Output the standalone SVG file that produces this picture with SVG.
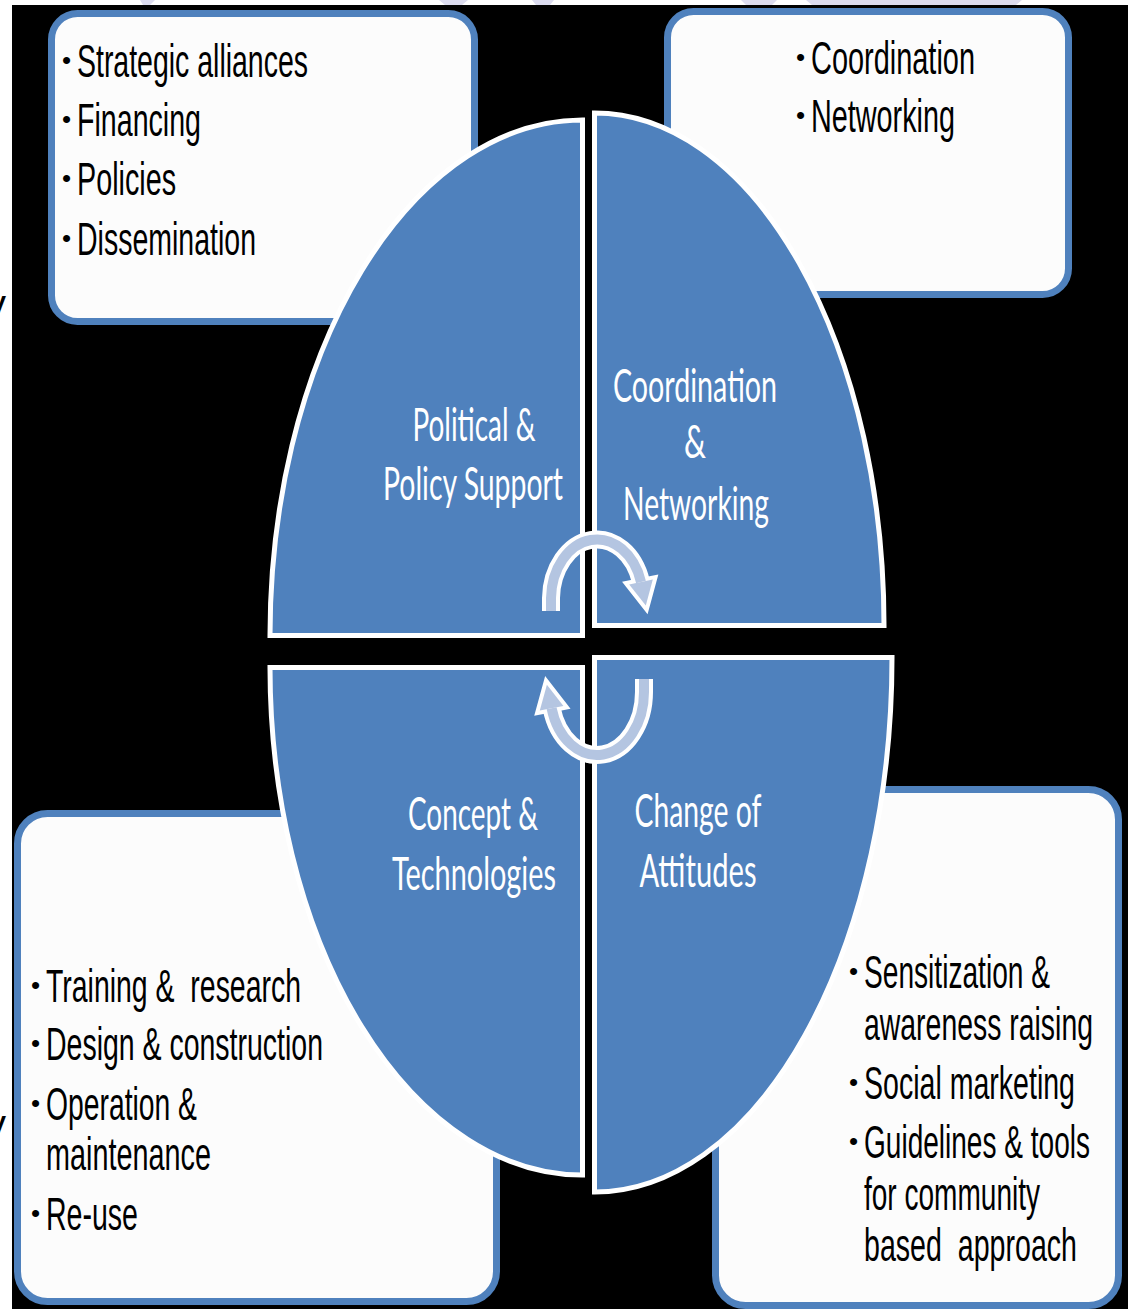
<svg xmlns="http://www.w3.org/2000/svg" width="1128" height="1309" viewBox="0 0 1128 1309">
  <style>
    .box { fill: #fcfcfc; stroke: #4f81bd; stroke-width: 7; }
    .quad { fill: #4f81bd; stroke: #ffffff; stroke-width: 5; }
    .item { font-family: "Liberation Sans", Arial, sans-serif; font-size: 46px; fill: #000000; }
    .bul { font-family: "Liberation Sans", Arial, sans-serif; font-size: 26px; fill: #000000; }
    .label { font-family: Lato, "Open Sans", sans-serif; font-size: 46px; fill: #ffffff; text-anchor: middle; }
    .stray { font-family: "Liberation Sans", Arial, sans-serif; font-size: 40px; fill: #000000; }
    .arrow-edge { fill: none; stroke: #ffffff; stroke-width: 18; }
    .arrow-body { fill: none; stroke: #b4c5e1; stroke-width: 10; }
    .head-edge { fill: #ffffff; stroke: #ffffff; stroke-width: 8; stroke-linejoin: miter; }
    .head-body { fill: #b4c5e1; }
  </style>

  <!-- page behind the slide -->
  <rect x="0" y="0" width="1128" height="1309" fill="#ffffff"/>
  <g id="page-edge">
    <path d="M140 0 L155 0 L150 5 L143 5 Z" fill="#dcdcef"/>
    <path d="M439 0 L468 0 L462 5 L445 5 Z" fill="#dcdcef"/>
    <path d="M532 0 L554 0 L550 5 L536 5 Z" fill="#dcdcef"/>
    <path d="M741 0 L777 0 L772 5 L746 5 Z" fill="#dcdcef"/>
    <path d="M806 0 L1022 0 L1016 5 L812 5 Z" fill="#dcdcef"/>
    <text class="stray" x="-14" y="318">y</text>
    <text class="stray" x="-10" y="624">l</text>
    <text class="stray" x="-14" y="1138">y</text>
  </g>

  <!-- slide background -->
  <rect x="12" y="5" width="1116" height="1304" fill="#000000"/>

  <!-- detail boxes -->
  <g id="box-policy">
    <rect class="box" x="51.5" y="13.5" width="423" height="308" rx="26"/>
    <text class="bul" x="62" y="69">•</text>
    <text class="item" x="77" y="77" textLength="231" lengthAdjust="spacingAndGlyphs">Strategic alliances</text>
    <text class="bul" x="62" y="128">•</text>
    <text class="item" x="77" y="136" textLength="124" lengthAdjust="spacingAndGlyphs">Financing</text>
    <text class="bul" x="62" y="187">•</text>
    <text class="item" x="77" y="195" textLength="99" lengthAdjust="spacingAndGlyphs">Policies</text>
    <text class="bul" x="62" y="247">•</text>
    <text class="item" x="77" y="255" textLength="179" lengthAdjust="spacingAndGlyphs">Dissemination</text>
  </g>

  <g id="box-coordination">
    <rect class="box" x="667.5" y="11.5" width="401" height="283" rx="26"/>
    <text class="bul" x="796" y="66">•</text>
    <text class="item" x="811" y="74" textLength="164" lengthAdjust="spacingAndGlyphs">Coordination</text>
    <text class="bul" x="796" y="124">•</text>
    <text class="item" x="811" y="132" textLength="144" lengthAdjust="spacingAndGlyphs">Networking</text>
  </g>

  <g id="box-concept">
    <rect class="box" x="17.5" y="813.5" width="479" height="488" rx="30"/>
    <text class="bul" x="31" y="994">•</text>
    <text class="item" x="46" y="1002" textLength="255" lengthAdjust="spacingAndGlyphs">Training &amp;&#160; research</text>
    <text class="bul" x="31" y="1052">•</text>
    <text class="item" x="46" y="1060" textLength="277" lengthAdjust="spacingAndGlyphs">Design &amp; construction</text>
    <text class="bul" x="31" y="1112">•</text>
    <text class="item" x="46" y="1120" textLength="151" lengthAdjust="spacingAndGlyphs">Operation &amp;</text>
    <text class="item" x="46" y="1170" textLength="165" lengthAdjust="spacingAndGlyphs">maintenance</text>
    <text class="bul" x="31" y="1222">•</text>
    <text class="item" x="46" y="1230" textLength="92" lengthAdjust="spacingAndGlyphs">Re-use</text>
  </g>

  <g id="box-attitudes">
    <rect class="box" x="715.5" y="789.5" width="403" height="516" rx="30"/>
    <text class="bul" x="849" y="980">•</text>
    <text class="item" x="864" y="988" textLength="186" lengthAdjust="spacingAndGlyphs">Sensitization &amp;</text>
    <text class="item" x="864" y="1040" textLength="229" lengthAdjust="spacingAndGlyphs">awareness raising</text>
    <text class="bul" x="849" y="1091">•</text>
    <text class="item" x="864" y="1099" textLength="211" lengthAdjust="spacingAndGlyphs">Social marketing</text>
    <text class="bul" x="849" y="1150">•</text>
    <text class="item" x="864" y="1158" textLength="226" lengthAdjust="spacingAndGlyphs">Guidelines &amp; tools</text>
    <text class="item" x="864" y="1210" textLength="176" lengthAdjust="spacingAndGlyphs">for community</text>
    <text class="item" x="864" y="1261" textLength="213" lengthAdjust="spacingAndGlyphs">based&#160; approach</text>
  </g>

  <!-- the four quadrants of the cycle -->
  <g id="quad-political">
    <path class="quad" d="M582.5 635.5 L270 635.5 A312.5 515.5 0 0 1 582.5 120 Z"/>
    <text class="label" x="474" y="441" textLength="123" lengthAdjust="spacingAndGlyphs">Political &amp;</text>
    <text class="label" x="473" y="500" textLength="180" lengthAdjust="spacingAndGlyphs">Policy Support</text>
  </g>

  <g id="quad-coordination">
    <path class="quad" d="M594.5 625.5 L594.5 113 A289.5 512.5 0 0 1 884 625.5 Z"/>
    <text class="label" x="695" y="402" textLength="164" lengthAdjust="spacingAndGlyphs">Coordination</text>
    <text class="label" x="695" y="458" textLength="22" lengthAdjust="spacingAndGlyphs">&amp;</text>
    <text class="label" x="696" y="520" textLength="146" lengthAdjust="spacingAndGlyphs">Networking</text>
  </g>

  <g id="quad-concept">
    <path class="quad" d="M582.5 667.5 L582.5 1175 A312.5 507.5 0 0 1 270 667.5 Z"/>
    <text class="label" x="473" y="830" textLength="130" lengthAdjust="spacingAndGlyphs">Concept &amp;</text>
    <text class="label" x="474" y="890" textLength="164" lengthAdjust="spacingAndGlyphs">Technologies</text>
  </g>

  <g id="quad-attitudes">
    <path class="quad" d="M594.5 657.5 L892 657.5 A297.5 534.5 0 0 1 594.5 1192 Z"/>
    <text class="label" x="698" y="827" textLength="127" lengthAdjust="spacingAndGlyphs">Change of</text>
    <text class="label" x="698" y="887" textLength="117" lengthAdjust="spacingAndGlyphs">Attitudes</text>
  </g>

  <!-- circular arrows in the middle -->
  <g id="connectors">
    <g id="arrow-top">
      <path class="arrow-edge" d="M551 611 L551 598 A46 60 0 0 1 641 582"/>
      <polygon class="head-edge" points="652.8,579.6 629.2,584.4 645.8,605.5"/>
      <path class="arrow-body" d="M551 611 L551 598 A46 60 0 0 1 641 582"/>
      <polygon class="head-body" points="652.8,579.6 629.2,584.4 645.8,605.5"/>
    </g>
    <g id="arrow-bottom">
      <path class="arrow-edge" d="M644 679 L644 692 A47 63 0 0 1 551.6 708.3"/>
      <polygon class="head-edge" points="563.4,706 539.8,710.6 546.9,684.8"/>
      <path class="arrow-body" d="M644 679 L644 692 A47 63 0 0 1 551.6 708.3"/>
      <polygon class="head-body" points="563.4,706 539.8,710.6 546.9,684.8"/>
    </g>
  </g>
</svg>
